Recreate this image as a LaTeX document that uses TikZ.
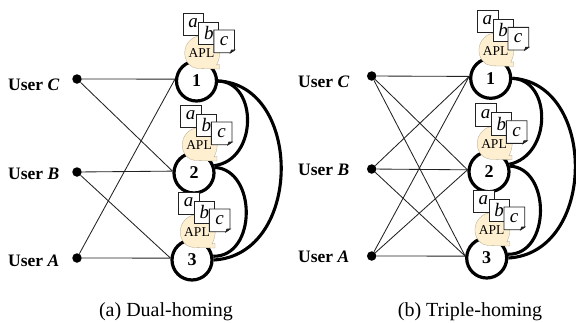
\documentclass[tikz,border=0pt]{standalone}
\usepackage{fontspec}
\setmainfont{Liberation Serif}
\usetikzlibrary{backgrounds}
\definecolor{blob}{HTML}{FDEFCF}
\definecolor{inkline}{HTML}{222222}
\tikzset{
  hub/.style={circle,draw=black,fill=white,line width=3.2pt,minimum size=40pt,inner sep=0pt,font=\fontsize{18}{18}\selectfont\bfseries},
  userdot/.style={circle,fill=black,minimum size=9.5pt,inner sep=0pt},
  userlabel/.style={anchor=west,inner sep=0pt,font=\fontsize{17.5}{18}\selectfont\bfseries},
  caption/.style={inner sep=0pt,font=\fontsize{20}{20}\selectfont},
  link/.style={line width=0.85pt,draw=inkline},
  trunk/.style={line width=3.1pt,draw=black},
  doc/.style={draw=inkline,fill=white,line width=0.9pt},
  doctext/.style={inner sep=0pt,font=\fontsize{19}{19}\selectfont\itshape},
  apl/.pic={
    \draw[draw=blob!70!black,fill=blob,line width=0.3pt] (23,-12) -- (23,-16.5) -- (20,-16)
      .. controls (22,-20) and (23.2,-24) .. (23.2,-28)
      .. controls (23.2,-37.7) and (15.4,-45.5) .. (5.7,-45.5)
      .. controls (-4,-45.5) and (-11.8,-37.7) .. (-11.8,-28)
      .. controls (-11.8,-20) and (-6,-13) .. (1,-12.5) -- cycle;
    \node[inner sep=0pt,font=\fontsize{13.5}{14}\selectfont] (-apl) at (5,-27.5) {APL};
    \draw[doc] (-13.3,-68) rectangle (7.3,-45.7);
    \node[doctext] (-a) at (-3.3,-58) {a};
    \draw[doc] (2.3,-59) rectangle (22.3,-36.7);
    \node[doctext] (-b) at (12.3,-48) {b};
    \draw[doc] (17.3,-51) -- (38,-51) -- (38,-31) -- (34,-28.3) -- (17.3,-28.3) -- cycle;
    \draw[doc,fill=inkline] (38,-31) -- (35,-31) -- (34,-28.3) -- cycle;
    \node[doctext] (-c) at (27.5,-40) {c};
  }
}
\begin{document}
\begin{tikzpicture}[x=1pt,y=-1pt]
\useasboundingbox (0,0) rectangle (576,322);
% panel (a)
\node[hub] (an1) at (196.5,81) {1};
\node[hub] (an2) at (194,173) {2};
\node[hub] (an3) at (192,260) {3};
\node[userdot] (auC) at (77,79) {};
\node[userdot] (auB) at (77,172) {};
\node[userdot] (auA) at (77,258) {};
\node[userlabel] (alC) at (8,85) {User \textit{C}};
\node[userlabel] (alB) at (8,174) {User \textit{B}};
\node[userlabel] (alA) at (8,261) {User \textit{A}};
\node[caption] (capa) at (166,312) {(a) Dual-homing};
% panel (b)
\node[hub] (bn1) at (490.7,78.3) {1};
\node[hub] (bn2) at (489,171.7) {2};
\node[hub] (bn3) at (486.7,258) {3};
\node[userdot] (buC) at (371.7,76) {};
\node[userdot] (buB) at (371.7,169) {};
\node[userdot] (buA) at (371.7,256) {};
\node[userlabel] (blC) at (298,82) {User \textit{C}};
\node[userlabel] (blB) at (298,170) {User \textit{B}};
\node[userlabel] (blA) at (298,257) {User \textit{A}};
\node[caption] (capb) at (470,312) {(b) Triple-homing};
\pic (aa1) at (an1) {apl};
\pic (aa2) at (an2) {apl};
\pic (aa3) at (an3) {apl};
\pic (ba1) at (bn1) {apl};
\pic (ba2) at (bn2) {apl};
\pic (ba3) at (bn3) {apl};
\begin{scope}[on background layer]
  \draw[link] (auC) -- (an1.175);
  \draw[link] (auC) -- (an2.175);
  \draw[link] (auB) -- (an2.175);
  \draw[link] (auB) -- (an3.175);
  \draw[link] (auA) -- (an3.175);
  \draw[link] (auA) -- (an1.175);
  \foreach \u in {buC,buB,buA}
    \foreach \n in {bn1,bn2,bn3}
      \draw[link] (\u) -- (\n.175);
  \draw[trunk] (an1.east) .. controls (258,82) and (258,160) .. (an2.20);
  \draw[trunk] (an1.east) .. controls (303,85) and (303,255) .. (an3.east);
  \draw[trunk] (an2.15) .. controls (257,170) and (257,257) .. (an3.10);
  \draw[trunk] (bn1.east) .. controls (552,80) and (552,155) .. (bn2.20);
  \draw[trunk] (bn1.east) .. controls (597,83) and (597,253) .. (bn3.east);
  \draw[trunk] (bn2.15) .. controls (551,168) and (551,255) .. (bn3.10);
\end{scope}
\end{tikzpicture}
\end{document}
